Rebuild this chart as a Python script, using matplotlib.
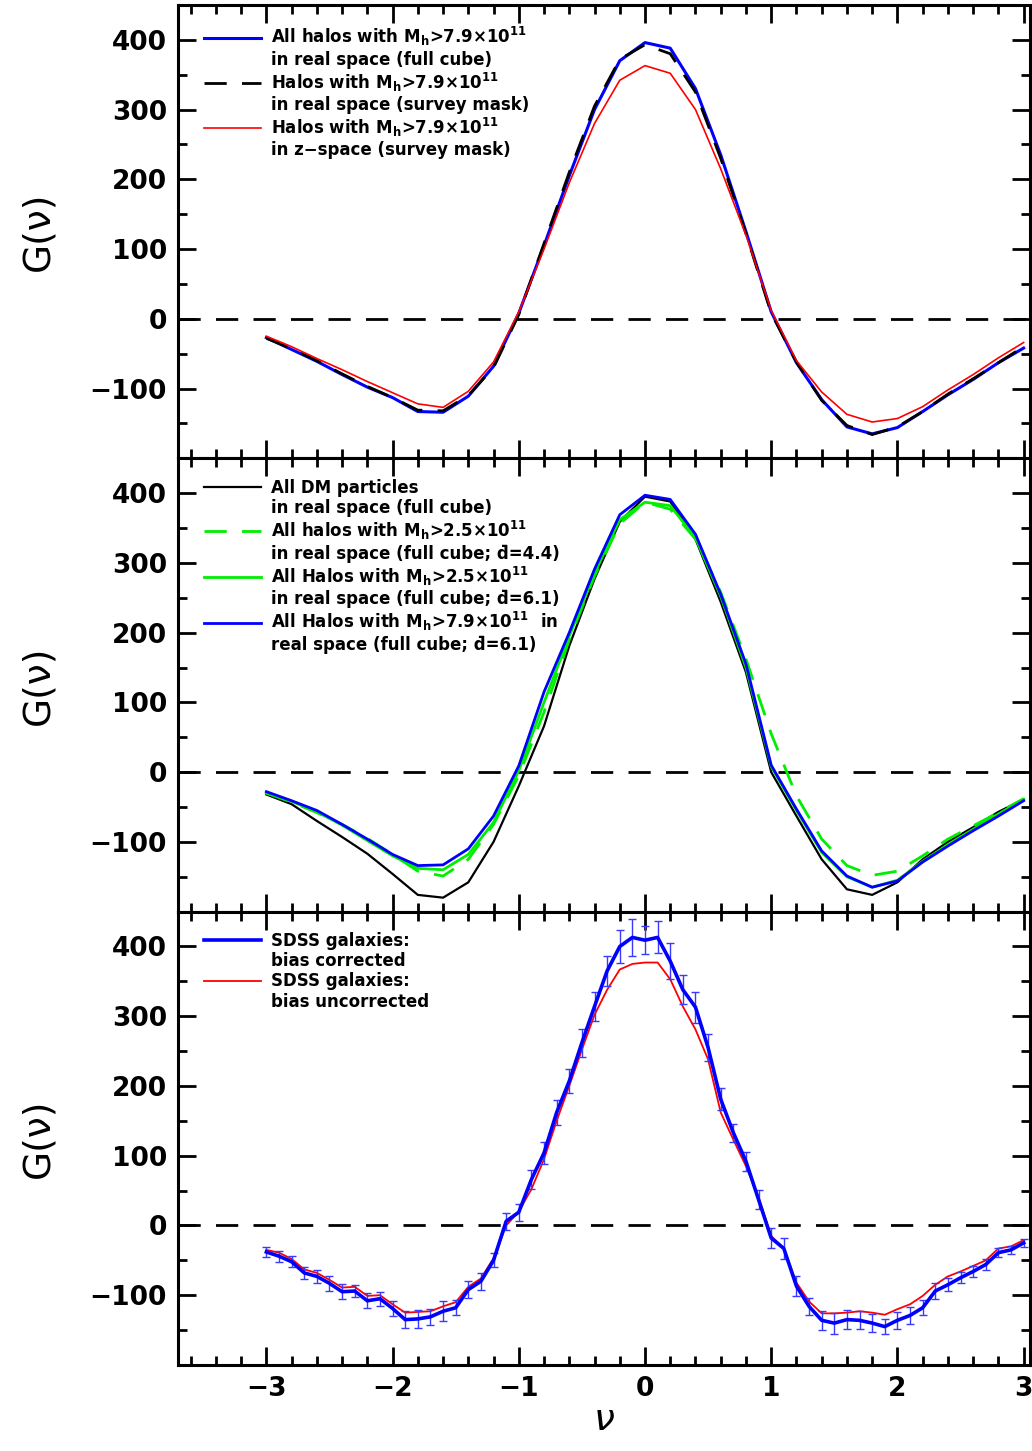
import numpy as np
import matplotlib
matplotlib.use('Agg')
import matplotlib.pyplot as plt
from matplotlib.lines import Line2D
from matplotlib.ticker import MultipleLocator

plt.rcParams['font.family'] = ['DejaVu Sans']
plt.rcParams['font.weight'] = 'bold'
plt.rcParams['mathtext.default'] = 'bf'
plt.rcParams['mathtext.fontset'] = 'dejavusans'

# genus curves, nu from -3 to 3 in steps of 0.2 (panels 1, 2)
nu = np.round(np.arange(-3.0, 3.01, 0.2), 2)

# panel 1
halo_full = [-27, -44, -61, -80, -98, -113, -133, -134, -111, -68, 8, 105, 205, 300, 370, 396,
             388, 330, 235, 125, 10, -63, -116, -155, -165, -156, -133, -109, -87, -63, -42]
halo_mask = [-28, -43, -60, -79, -97, -113, -131, -132, -110, -70, 6, 108, 210, 305, 372, 393,
             380, 325, 230, 122, 8, -62, -117, -153, -166, -155, -133, -108, -86, -63, -40]
halo_zspace = [-25, -40, -57, -73, -90, -106, -122, -127, -104, -62, 10, 100, 195, 280, 342, 363,
               352, 300, 215, 120, 12, -60, -105, -137, -148, -143, -126, -102, -80, -56, -34]

# panel 2
dm_full = [-32, -46, -70, -93, -117, -146, -176, -180, -158, -100, -20, 66, 181, 277, 359, 395,
           388, 334, 244, 143, 0, -63, -125, -168, -176, -158, -125, -100, -79, -57, -39]
halo25_d44 = [-30, -43, -58, -75, -95, -118, -142, -149, -125, -75, -5, 86, 190, 281, 356, 387,
              377, 334, 258, 162, 55, -34, -96, -134, -148, -142, -120, -96, -77, -58, -38]
halo25_d61 = [-30, -42, -57, -76, -98, -120, -138, -140, -118, -72, 2, 100, 195, 285, 362, 387,
              382, 336, 252, 150, 8, -55, -115, -150, -165, -155, -128, -104, -82, -60, -39]
halo79_d61 = [-28, -41, -55, -75, -96, -118, -134, -133, -110, -63, 9, 115, 200, 291, 369, 397,
              391, 341, 255, 155, 10, -53, -113, -149, -165, -156, -129, -106, -84, -63, -41]

# panel 3: SDSS, nu from -3 to 3 in steps of 0.1
nu_sdss = np.round(np.arange(-3.0, 3.001, 0.1), 2)
sdss_corr = [-38, -44, -52, -68, -73, -83, -95, -94, -108, -105,
             -119, -135, -134, -131, -123, -118, -92, -80, -50, 6,
             19, 66, 104, 162, 207, 262, 314, 365, 400, 413,
             409, 413, 379, 338, 313, 255, 181, 133, 92, 37,
             -18, -33, -87, -116, -136, -140, -135, -136, -140, -145,
             -136, -129, -118, -94, -85, -75, -66, -56, -39, -35, -25]
sdss_err = [7, 8, 8, 9, 9, 11, 11, 9, 11, 10,
            11, 12, 13, 11, 14, 11, 12, 12, 10, 12,
            12, 13, 16, 18, 17, 20, 21, 21, 23, 26,
            20, 23, 26, 21, 22, 19, 16, 13, 14, 14,
            14, 15, 14, 12, 14, 15, 14, 13, 13, 11,
            12, 12, 11, 11, 9, 8, 8, 8, 6, 6, 6]
sdss_uncorr = [-35, -39, -48, -63, -68, -78, -89, -88, -101, -100,
               -113, -125, -124, -123, -116, -110, -88, -76, -47, 0,
               20, 52, 95, 150, 200, 252, 302, 338, 367, 375,
               377, 377, 353, 314, 281, 238, 162, 123, 85, 40,
               -15, -33, -82, -109, -126, -126, -125, -123, -125, -128,
               -120, -113, -101, -85, -73, -66, -58, -50, -33, -30, -21]

blue = '#0000ff'
red = '#ff0000'
green = '#00ee00'
dash = (0, (8, 5.5))
dbar = 'd\u0304'

fig, axes = plt.subplots(3, 1, sharex=True, figsize=(10.32, 14.51), dpi=100)
fig.subplots_adjust(left=0.1725, right=0.998, top=0.9966, bottom=0.0593, hspace=0)


def blank():
    return Line2D([], [], linestyle='none')


def add_legend(ax, entries):
    handles, labels = [], []
    for h, l1, l2 in entries:
        handles += [h, blank()]
        labels += [l1, l2]
    ax.legend(handles, labels, loc='upper left', bbox_to_anchor=(0.031, 0.955),
              frameon=False, fontsize=12, handlelength=3.4, handletextpad=0.6,
              labelspacing=0.13, borderaxespad=0, borderpad=0)


ax = axes[0]
l1, = ax.plot(nu, halo_full, color=blue, lw=2.2)
l2, = ax.plot(nu, halo_mask, color='k', lw=2.0, ls=dash)
l3, = ax.plot(nu, halo_zspace, color=red, lw=1.2)
add_legend(ax, [
    (l1, r'All halos with M$_h$>7.9×10$^{11}$', 'in real space (full cube)'),
    (l2, r'Halos with M$_h$>7.9×10$^{11}$', 'in real space (survey mask)'),
    (l3, r'Halos with M$_h$>7.9×10$^{11}$', 'in z−space (survey mask)'),
])

ax = axes[1]
m1, = ax.plot(nu, dm_full, color='k', lw=1.6)
m2, = ax.plot(nu, halo25_d44, color=green, lw=2.0, ls=dash)
m3, = ax.plot(nu, halo25_d61, color=green, lw=2.0)
m4, = ax.plot(nu, halo79_d61, color=blue, lw=2.0)
add_legend(ax, [
    (m1, 'All DM particles', 'in real space (full cube)'),
    (m2, r'All halos with M$_h$>2.5×10$^{11}$', f'in real space (full cube; {dbar}=4.4)'),
    (m3, r'All Halos with M$_h$>2.5×10$^{11}$', f'in real space (full cube; {dbar}=6.1)'),
    (m4, r'All Halos with M$_h$>7.9×10$^{11}$  in', f'real space (full cube; {dbar}=6.1)'),
])

ax = axes[2]
s2, = ax.plot(nu_sdss, sdss_uncorr, color=red, lw=1.3)
ax.errorbar(nu_sdss, sdss_corr, yerr=sdss_err, fmt='none', ecolor='#3a3aff',
            elinewidth=1.0, capsize=3, capthick=1.0)
s1, = ax.plot(nu_sdss, sdss_corr, color=blue, lw=2.6)
add_legend(ax, [
    (s1, 'SDSS galaxies:', 'bias corrected'),
    (s2, 'SDSS galaxies:', 'bias uncorrected'),
])

for ax in axes:
    ax.axhline(0, color='k', lw=2.0, ls=dash, zorder=0.5)
    ax.set_xlim(-3.7, 3.05)
    ax.set_ylim(-200, 450)
    ax.set_yticks([-100, 0, 100, 200, 300, 400])
    ax.yaxis.set_minor_locator(MultipleLocator(50))
    ax.xaxis.set_major_locator(MultipleLocator(1))
    ax.xaxis.set_minor_locator(MultipleLocator(0.2))
    ax.tick_params(which='both', direction='in', top=True, right=True, width=2)
    ax.tick_params(which='major', length=13, labelsize=19, pad=8)
    ax.tick_params(which='minor', length=6.5)
    for s in ax.spines.values():
        s.set_linewidth(2.2)
    ax.set_ylabel('G(ν)', fontsize=27, fontweight='normal', labelpad=24)
    for t in ax.get_yticklabels() + ax.get_xticklabels():
        t.set_fontweight('bold')

axes[2].set_xlabel('ν', fontsize=27, fontweight='normal', fontstyle='italic', labelpad=0)

fig.savefig('out.png', dpi=100)
